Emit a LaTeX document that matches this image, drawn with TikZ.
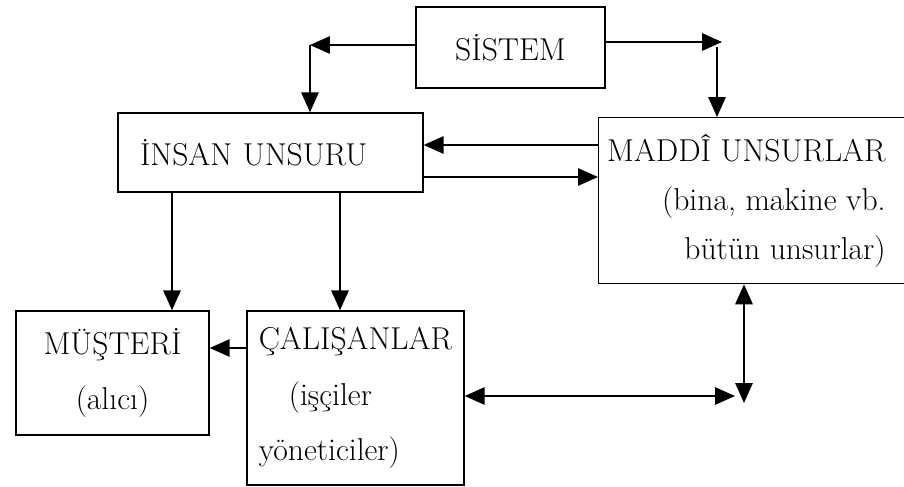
\documentclass[tikz,border=0pt]{standalone}
\usepackage{fontspec}
\usepackage{tikz}
\usetikzlibrary{arrows.meta,positioning}

\begin{document}
\begin{tikzpicture}[
  x=0.02cm, y=-0.02cm,
  >={Triangle[length=0.4cm,width=0.35cm]},
  every node/.style={font=\fontsize{18}{28}\selectfont},
  box/.style={draw, line width=0.8pt, inner sep=0pt},
  flow/.style={->, line width=0.8pt},
  bidir/.style={<->, line width=0.8pt},
  twoline/.style={align=center, font=\fontsize{18}{31.7}\selectfont}
]
\useasboundingbox (0,0) rectangle (904,487);

\node[box, minimum width=3.78cm, minimum height=1.62cm] (sistem) at (510.5,47.5) {SİSTEM};
\node[box, minimum height=1.58cm, text width=5.22cm, inner xsep=0.44cm, align=left] (insan) at (270.5,152.5) {İNSAN UNSURU};
\node[box, anchor=north west, minimum width=6.6cm, minimum height=3.32cm] (maddi) at (598,117) {};
\node[anchor=north east, align=right, inner sep=0pt] (maddiyazi) at (886,134) {MADDÎ UNSURLAR\\(bina, makine vb.\\bütün unsurlar)};
\node[box, twoline, minimum width=3.86cm, minimum height=2.48cm] (musteri) at (112.5,373) {MÜŞTERİ\\(alıcı)};
\node[box, twoline, align=left, minimum width=4.34cm, minimum height=3.48cm] (calisan) at (355.5,398) {ÇALIŞANLAR\\\hspace*{0.6cm}(işçiler\\yöneticiler)};

\coordinate (sl) at (310,45);
\coordinate (sr) at (722,42);
\coordinate (sd) at (717,47);
\coordinate (ust) at (0,145);
\coordinate (alt) at (0,177);
\coordinate (mx) at (172,0);
\coordinate (cx) at (340,0);
\coordinate (mc) at (0,348);
\coordinate (hb) at (735,396);
\coordinate (vb) at (744,403);

\draw[flow] (sistem.west |- sl) -- (sl);
\draw[flow] (sl) -- (sl |- insan.north);
\draw[flow] (sistem.east |- sr) -- (sr);
\draw[flow] (sd) -- (sd |- maddi.north);
\draw[flow] (maddi.west |- ust) -- (insan.east |- ust);
\draw[flow] (insan.east |- alt) -- (maddi.west |- alt);
\draw[flow] (insan.south -| mx) -- (musteri.north -| mx);
\draw[flow] (insan.south -| cx) -- (calisan.north -| cx);
\draw[flow] (calisan.west |- mc) -- (musteri.east |- mc);
\draw[bidir] (calisan.east |- hb) -- (hb);
\draw[bidir] (vb |- maddi.south) -- (vb);
\end{tikzpicture}
\end{document}
